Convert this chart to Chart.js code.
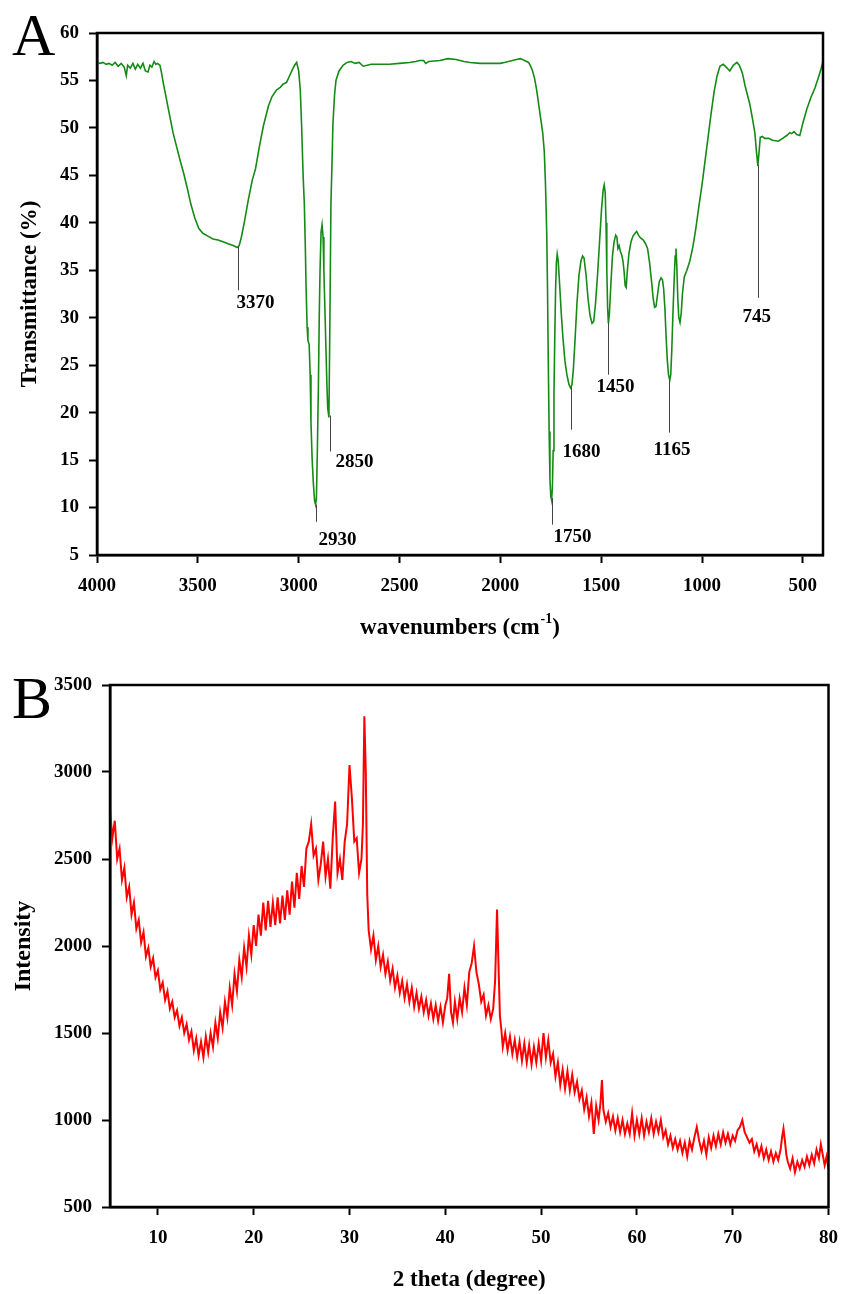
<!DOCTYPE html>
<html><head><meta charset="utf-8">
<script src="https://cdn.jsdelivr.net/npm/chart.js@4/dist/chart.umd.min.js"></script>
<style>
html,body{margin:0;padding:0;background:#fff;width:850px;height:1294px;overflow:hidden}
.box{position:absolute;left:0;width:850px}
#wa{top:0;height:650px}
#wb{top:650px;height:644px}
</style></head><body>
<div class="box" id="wa"><canvas id="ca"></canvas></div>
<div class="box" id="wb"><canvas id="cb"></canvas></div>
<script>
// ---------- DATA ----------
const ftirXTicks = [4000,3500,3000,2500,2000,1500,1000,500];
const ftirYTicks = [5,10,15,20,25,30,35,40,45,50,55,60];
const xrdXTicks = [10,20,30,40,50,60,70,80];
const xrdYTicks = [500,1000,1500,2000,2500,3000,3500];

// FTIR spectrum: [wavenumber, transmittance %]
const ftirPoints = [
[4000,56.9],[3985,56.8],[3970,56.9],[3955,56.7],[3940,56.8],[3925,56.6],[3910,56.9],[3895,56.5],[3880,56.8],[3865,56.4],
[3855,55.5],[3848,56.6],[3835,56.3],[3822,56.8],[3810,56.2],[3798,56.7],[3785,56.3],[3772,56.8],[3760,56.0],[3747,55.9],
[3738,56.6],[3728,56.4],[3717,57.0],[3708,56.7],[3700,56.8],[3688,56.6],[3680,55.8],[3671,54.7],[3660,53.5],[3648,52.2],
[3635,50.8],[3623,49.5],[3605,48.0],[3588,46.6],[3570,45.2],[3554,43.8],[3535,42.0],[3515,40.5],[3495,39.4],[3475,38.9],
[3450,38.6],[3425,38.3],[3400,38.2],[3375,38.0],[3350,37.8],[3325,37.6],[3305,37.4],[3295,37.6],[3285,38.4],[3270,40.0],
[3250,42.4],[3230,44.5],[3214,45.7],[3195,48.0],[3175,50.2],[3150,52.3],[3132,53.3],[3110,54.0],[3090,54.3],[3078,54.6],
[3060,54.8],[3045,55.5],[3030,56.2],[3020,56.6],[3010,56.9],[3000,56.0],[2992,54.0],[2985,50.0],[2978,45.0],[2972,42.0],
[2967,37.5],[2963,33.0],[2958,29.0],[2954,27.6],[2948,27.2],[2943,24.0],[2939,19.0],[2933,15.0],[2927,12.5],[2921,10.7],
[2916,10.3],[2912,11.0],[2907,16.4],[2902,23.0],[2898,30.0],[2894,35.0],[2889,39.0],[2884,39.8],[2879,38.5],[2875,35.0],
[2870,31.0],[2865,27.0],[2860,23.0],[2856,20.5],[2850,19.5],[2845,30.0],[2840,42.0],[2835,46.0],[2830,50.5],[2822,53.5],
[2815,55.0],[2800,56.0],[2780,56.6],[2760,56.9],[2740,57.0],[2720,56.8],[2700,56.9],[2680,56.5],[2660,56.6],[2640,56.7],
[2600,56.7],[2550,56.7],[2500,56.8],[2450,56.9],[2420,57.0],[2400,57.1],[2380,57.1],[2370,56.8],[2355,57.0],[2300,57.1],
[2260,57.3],[2220,57.2],[2180,57.0],[2150,56.9],[2100,56.8],[2050,56.8],[2000,56.8],[1980,56.9],[1960,57.0],[1940,57.1],
[1920,57.2],[1900,57.3],[1880,57.1],[1860,56.9],[1850,56.5],[1840,56.0],[1830,55.2],[1820,54.0],[1810,52.5],[1800,51.0],
[1790,49.5],[1782,47.5],[1776,44.0],[1770,39.0],[1766,33.0],[1762,25.0],[1758,18.0],[1754,13.0],[1750,11.2],[1746,10.8],
[1742,12.0],[1738,16.0],[1734,22.0],[1730,28.0],[1726,33.0],[1722,35.8],[1718,36.7],[1713,36.0],[1706,33.5],[1698,30.5],
[1690,28.0],[1680,25.5],[1670,24.0],[1660,23.0],[1652,22.6],[1645,22.9],[1638,24.5],[1630,27.5],[1620,31.5],[1610,34.5],
[1600,36.0],[1592,36.5],[1585,36.3],[1575,34.5],[1565,32.0],[1555,30.2],[1545,29.4],[1537,29.6],[1528,31.5],[1518,34.5],
[1508,38.0],[1498,41.5],[1490,43.5],[1485,44.0],[1480,43.2],[1476,40.0],[1472,35.0],[1468,31.0],[1464,29.4],[1459,30.5],
[1452,33.5],[1444,36.5],[1436,38.0],[1428,38.7],[1422,38.5],[1417,37.3],[1411,37.6],[1405,37.0],[1398,36.6],[1392,36.0],
[1386,34.8],[1381,33.4],[1376,33.2],[1370,35.0],[1362,36.8],[1352,38.0],[1342,38.6],[1332,38.9],[1324,39.1],[1315,38.7],
[1305,38.4],[1292,38.2],[1280,37.8],[1270,37.3],[1260,35.8],[1250,33.8],[1242,32.0],[1235,31.1],[1228,31.2],[1220,32.5],
[1212,33.8],[1203,34.2],[1196,34.0],[1190,33.0],[1184,31.0],[1178,28.0],[1172,25.5],[1166,24.0],[1160,23.4],[1155,24.0],
[1150,26.5],[1144,30.5],[1138,34.0],[1133,36.5],[1129,37.3],[1125,35.5],[1120,32.0],[1115,30.0],[1109,29.5],[1103,30.5],
[1097,32.5],[1088,34.3],[1075,35.0],[1060,36.0],[1045,37.5],[1030,39.5],[1015,41.8],[1000,44.0],[985,46.5],[970,49.0],
[955,51.5],[940,53.8],[925,55.5],[911,56.5],[895,56.7],[880,56.4],[862,56.0],[845,56.6],[827,56.9],[815,56.6],
[800,55.8],[787,54.5],[775,53.5],[763,52.5],[750,51.0],[738,49.5],[730,47.5],[723,46.0],[717,47.5],[711,49.0],
[700,49.1],[690,48.9],[670,48.9],[650,48.7],[621,48.6],[600,48.9],[580,49.2],[564,49.5],[555,49.4],[544,49.6],
[530,49.3],[515,49.2],[500,50.5],[480,52.0],[460,53.2],[440,54.2],[420,55.5],[410,56.2],[400,57.0]
];

// FTIR peak labels
const ftirPeakLabels = ["3370","2930","2850","1750","1680","1450","1165","745"];
const ftirPeakWave   = [3300, 2916, 2843, 1746, 1651, 1468, 1164, 723];
const ftirPeakTop    = [37.5, 10.3, 19.7, 11.0, 22.7, 29.5, 23.4, 46.1];
const ftirPeakBottom = [32.9, 8.5, 15.9, 8.2, 18.2, 24.0, 17.9, 32.1];

// XRD pattern: [2theta, intensity]
const xrdPoints = [
[5,2780],[5.25,2620],[5.5,2720],[5.75,2500],[6,2560],[6.25,2380],[6.5,2450],[6.75,2280],[7,2340],[7.25,2180],
[7.5,2250],[7.75,2100],[8,2150],[8.25,2020],[8.5,2080],[8.75,1940],[9,1990],[9.25,1880],[9.5,1930],[9.75,1820],
[10,1860],[10.25,1750],[10.5,1790],[10.75,1690],[11,1740],[11.25,1640],[11.5,1680],[11.75,1590],[12,1630],[12.25,1540],
[12.5,1590],[12.75,1500],[13,1550],[13.25,1460],[13.5,1510],[13.75,1400],[14,1470],[14.25,1370],[14.5,1450],[14.75,1360],
[15,1480],[15.25,1390],[15.5,1500],[15.75,1420],[16,1560],[16.25,1470],[16.5,1620],[16.75,1530],[17,1680],[17.25,1590],
[17.5,1760],[17.75,1660],[18,1840],[18.25,1740],[18.5,1920],[18.75,1820],[19,1990],[19.25,1880],[19.5,2060],[19.75,1950],
[20,2120],[20.25,2000],[20.5,2180],[20.75,2060],[21,2250],[21.25,2090],[21.5,2260],[21.75,2110],[22,2250],[22.25,2120],
[22.5,2280],[22.75,2130],[23,2290],[23.25,2150],[23.5,2320],[23.75,2180],[24,2370],[24.25,2220],[24.5,2420],[24.75,2270],
[25,2460],[25.25,2340],[25.5,2560],[25.75,2600],[26,2700],[26.25,2520],[26.5,2560],[26.75,2380],[27,2470],[27.25,2600],
[27.5,2400],[27.75,2500],[28,2330],[28.25,2620],[28.5,2830],[28.75,2420],[29,2500],[29.25,2380],[29.5,2600],[29.75,2700],
[30,3040],[30.25,2850],[30.5,2600],[30.75,2620],[31,2420],[31.25,2500],[31.4,2700],[31.55,3320],[31.7,3000],[31.85,2300],
[32,2090],[32.25,1980],[32.5,2060],[32.75,1920],[33,2000],[33.25,1880],[33.5,1950],[33.75,1840],[34,1910],[34.25,1800],
[34.5,1870],[34.75,1760],[35,1830],[35.25,1730],[35.5,1800],[35.75,1700],[36,1780],[36.25,1680],[36.5,1760],[36.75,1650],
[37,1730],[37.25,1640],[37.5,1710],[37.75,1620],[38,1690],[38.25,1600],[38.5,1670],[38.75,1580],[39,1660],[39.25,1570],
[39.5,1650],[39.75,1560],[40,1660],[40.2,1700],[40.4,1840],[40.6,1620],[40.8,1560],[41,1680],[41.25,1580],[41.5,1700],
[41.75,1620],[42,1760],[42.25,1660],[42.5,1850],[42.75,1900],[43,2000],[43.25,1850],[43.5,1780],[43.75,1680],[44,1720],
[44.25,1600],[44.5,1660],[44.75,1580],[45,1640],[45.2,1800],[45.4,2210],[45.55,1900],[45.7,1600],[45.85,1520],[46,1420],
[46.25,1500],[46.5,1400],[46.75,1480],[47,1380],[47.25,1460],[47.5,1360],[47.75,1450],[48,1340],[48.25,1440],[48.5,1330],
[48.75,1430],[49,1320],[49.25,1420],[49.5,1330],[49.75,1440],[50,1340],[50.25,1500],[50.5,1360],[50.75,1460],[51,1330],
[51.25,1380],[51.5,1250],[51.75,1330],[52,1200],[52.25,1290],[52.5,1180],[52.75,1280],[53,1170],[53.25,1260],[53.5,1160],
[53.75,1220],[54,1120],[54.25,1170],[54.5,1060],[54.75,1130],[55,1020],[55.25,1100],[55.5,920],[55.75,1080],[56,1000],
[56.2,1100],[56.35,1230],[56.5,1060],[56.75,990],[57,1040],[57.25,960],[57.5,1020],[57.75,940],[58,1010],[58.25,930],
[58.5,1000],[58.75,920],[59,980],[59.25,920],[59.5,1040],[59.75,910],[60,1000],[60.25,920],[60.5,1010],[60.75,910],
[61,990],[61.25,930],[61.5,1010],[61.75,920],[62,990],[62.25,930],[62.5,1000],[62.75,900],[63,940],[63.25,860],
[63.5,910],[63.75,840],[64,890],[64.25,830],[64.5,880],[64.75,810],[65,870],[65.25,790],[65.5,880],[65.75,830],
[66,900],[66.25,960],[66.5,880],[66.75,820],[67,880],[67.25,800],[67.5,900],[67.75,840],[68,910],[68.25,850],
[68.5,920],[68.75,860],[69,930],[69.25,870],[69.5,920],[69.75,860],[70,910],[70.25,880],[70.5,940],[70.75,960],
[71,1000],[71.25,930],[71.5,900],[71.75,870],[72,890],[72.25,820],[72.5,860],[72.75,800],[73,850],[73.25,780],
[73.5,830],[73.75,770],[74,820],[74.25,760],[74.5,810],[74.75,770],[75,830],[75.15,900],[75.3,950],[75.45,880],
[75.6,800],[75.75,760],[76,720],[76.25,780],[76.5,700],[76.75,760],[77,720],[77.25,770],[77.5,730],[77.75,790],
[78,740],[78.25,800],[78.5,750],[78.75,830],[79,780],[79.2,860],[79.4,800],[79.6,740],[79.8,790],[80,720]
];

// ---------- STYLE / LAYOUT ----------
const SERIF = '"Liberation Serif", "Times New Roman", serif';
const labelOffsetX = [-2, 2, 5, 1, -9, -12, -16, -16];
const labelOffsetY = [13, 18, 11, 12, 22, 12, 18, 19];

function axisCommon(axisSize, isX, pad) {
  return {
    grid: { drawOnChartArea: false, drawTicks: true, tickLength: 8, tickColor: '#000', tickWidth: 2, color: '#000' },
    border: { display: true, color: '#000', width: 2.5 },
    ticks: { color: '#000', font: { family: SERIF, weight: 'bold', size: 19 }, padding: pad, maxRotation: 0, autoSkip: false,
      callback: v => String(v) },
    afterFit: s => { if (isX) s.height = axisSize; else s.width = axisSize; }
  };
}

function framePlugin(cfg) {
  return {
    id: 'frame_' + cfg.key,
    afterDraw(chart) {
      const { ctx, chartArea: a } = chart;
      ctx.save();
      ctx.strokeStyle = '#000';
      ctx.lineWidth = 2.5;
      ctx.strokeRect(a.left, a.top, a.right - a.left, a.bottom - a.top);
      ctx.fillStyle = '#000';
      ctx.font = '60px ' + SERIF;
      ctx.textAlign = 'left';
      ctx.textBaseline = 'alphabetic';
      ctx.fillText(cfg.letter, 12, cfg.letterBase);
      const cx = (a.left + a.right) / 2;
      const ty = a.bottom + cfg.xTitleDy;
      ctx.font = 'bold 23px ' + SERIF;
      ctx.textBaseline = 'middle';
      if (cfg.xSup) {
        const supFont = 'bold 14px ' + SERIF;
        const w1 = ctx.measureText(cfg.xTitle).width;
        ctx.font = supFont; const w2 = ctx.measureText(cfg.xSup).width;
        ctx.font = 'bold 23px ' + SERIF; const w3 = ctx.measureText(cfg.xTitleEnd).width;
        let x0 = cx - (w1 + w2 + w3 + 1) / 2;
        ctx.textAlign = 'left';
        ctx.fillText(cfg.xTitle, x0, ty);
        ctx.font = supFont; ctx.fillText(cfg.xSup, x0 + w1 + 1, ty - 9);
        ctx.font = 'bold 23px ' + SERIF; ctx.fillText(cfg.xTitleEnd, x0 + w1 + w2 + 1, ty);
      } else {
        ctx.textAlign = 'center';
        ctx.fillText(cfg.xTitle, cx, ty);
      }
      ctx.save();
      ctx.translate(cfg.yTitleX, (a.top + a.bottom) / 2);
      ctx.rotate(-Math.PI / 2);
      ctx.textAlign = 'center';
      ctx.textBaseline = 'middle';
      ctx.font = 'bold ' + cfg.yTitleSize + 'px ' + SERIF;
      ctx.fillText(cfg.yTitle, 0, 0);
      ctx.restore();
      ctx.restore();
    }
  };
}

const peakPlugin = {
  id: 'peaks',
  afterDatasetsDraw(chart) {
    const { ctx, scales: { x, y } } = chart;
    ctx.save();
    ctx.strokeStyle = '#444';
    ctx.lineWidth = 1;
    ctx.fillStyle = '#000';
    ctx.font = 'bold 19px ' + SERIF;
    ctx.textAlign = 'left';
    ctx.textBaseline = 'middle';
    ftirPeakLabels.forEach((lab, i) => {
      const px = Math.round(x.getPixelForValue(ftirPeakWave[i])) + 0.5;
      const y1 = y.getPixelForValue(ftirPeakTop[i]);
      const y2 = y.getPixelForValue(ftirPeakBottom[i]);
      ctx.beginPath(); ctx.moveTo(px, y1); ctx.lineTo(px, y2); ctx.stroke();
      ctx.fillText(lab, px + labelOffsetX[i], y2 + labelOffsetY[i]);
    });
    ctx.restore();
  }
};

// ---------- CHART A ----------
const ax = axisCommon(95, true, 12);
const ay = axisCommon(97, false, 10);
new Chart(document.getElementById('ca'), {
  type: 'line',
  data: { datasets: [{ data: ftirPoints.map(([w, t]) => ({ x: w, y: t })), borderColor: '#168a16', borderWidth: 1.6, pointRadius: 0, tension: 0, fill: false }] },
  options: {
    responsive: true, maintainAspectRatio: false, animation: false, devicePixelRatio: 1,
    layout: { padding: { left: 0, top: 33, right: 27, bottom: 0 } },
    plugins: { legend: { display: false }, tooltip: { enabled: false } },
    scales: {
      x: Object.assign({ type: 'linear', reverse: true, min: 400, max: 4000,
        afterBuildTicks: s => { s.ticks = ftirXTicks.map(v => ({ value: v })); } }, ax),
      y: Object.assign({ type: 'linear', min: 5, max: 60,
        afterBuildTicks: s => { s.ticks = ftirYTicks.map(v => ({ value: v })); } }, ay)
    }
  },
  plugins: [peakPlugin, framePlugin({ key: 'a', letter: 'A', letterBase: 55, xTitle: 'wavenumbers (cm', xSup: '-1', xTitleEnd: ')', xTitleDy: 73, yTitle: 'Transmittance (%)', yTitleX: 30, yTitleSize: 23 })]
});

// ---------- CHART B ----------
const bx = axisCommon(87, true, 12);
const by = axisCommon(110, false, 10);
new Chart(document.getElementById('cb'), {
  type: 'line',
  data: { datasets: [{ data: xrdPoints.map(([t, i]) => ({ x: t, y: i })), borderColor: '#ff0000', borderWidth: 2, pointRadius: 0, tension: 0, fill: false }] },
  options: {
    responsive: true, maintainAspectRatio: false, animation: false, devicePixelRatio: 1,
    layout: { padding: { left: 0, top: 35, right: 14, bottom: 0 } },
    plugins: { legend: { display: false }, tooltip: { enabled: false } },
    scales: {
      x: Object.assign({ type: 'linear', min: 5, max: 80,
        afterBuildTicks: s => { s.ticks = xrdXTicks.map(v => ({ value: v })); } }, bx),
      y: Object.assign({ type: 'linear', min: 500, max: 3500,
        afterBuildTicks: s => { s.ticks = xrdYTicks.map(v => ({ value: v })); } }, by)
    }
  },
  plugins: [framePlugin({ key: 'b', letter: 'B', letterBase: 68, xTitle: '2 theta (degree)', xTitleDy: 73, yTitle: 'Intensity', yTitleX: 24, yTitleSize: 24 })]
});
</script>
</body></html>
